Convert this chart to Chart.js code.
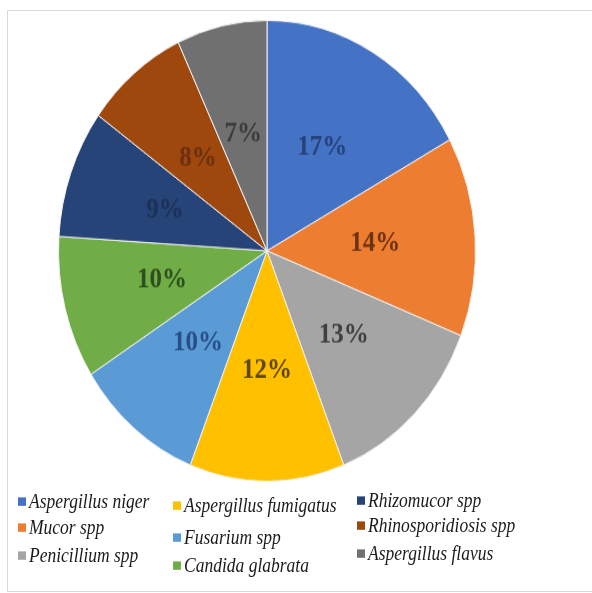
<!DOCTYPE html>
<html>
<head>
<meta charset="utf-8">
<script src="https://cdn.jsdelivr.net/npm/chart.js@4/dist/chart.umd.min.js"></script>
<style>
  html, body { margin: 0; padding: 0; background: #fff; }
  #page { position: relative; width: 592px; height: 593px; overflow: hidden; }
  #frame { position: absolute; left: 7px; top: 10px; width: 600px; height: 580px; border: 1px solid #d9d9d9; }
  #pieBox { position: absolute; left: 0; top: 0; width: 592px; height: 454px; transform: scaleY(1.105); transform-origin: 0 0; }
  #legend { position: absolute; left: 0; top: 0; width: 592px; height: 593px; font-family: "Liberation Serif", "Times New Roman", serif; font-style: italic; font-size: 17.5px; color: #1a1a1a; }
  .item { position: absolute; white-space: nowrap; line-height: 20px; transform: scaleY(1.2); transform-origin: 0 50%; }
  .sw { display: inline-block; width: 8px; height: 7px; margin-right: 3px; vertical-align: 2px; }
</style>
</head>
<body>
<div id="page">
  <div id="frame"></div>
  <div id="pieBox"><canvas id="pie"></canvas></div>
  <div id="legend"></div>
</div>
<script>
const species = ['Aspergillus niger', 'Mucor spp', 'Penicillium spp', 'Aspergillus fumigatus',
  'Fusarium spp', 'Candida glabrata', 'Rhizomucor spp', 'Rhinosporidiosis spp', 'Aspergillus flavus']
const percents = [17, 14, 13, 12, 10, 10, 9, 8, 7]
const sliceColors = ['#4472C4', '#ED7D31', '#A5A5A5', '#FFC000', '#5B9BD5', '#70AD47', '#264478', '#9E480E', '#707070']
const labelColors = ['#25437a', '#6e3210', '#3f3f3f', '#5e4500', '#254f86', '#2f4d1d', '#1c3157', '#6a3010', '#3c3c3c']

// legend is column-major (3 columns) so it is built in html
const legendSpots = [
  [18, 491], [18, 517], [18, 545],
  [173, 495], [173, 527], [173, 555],
  [357, 490], [357, 515], [357, 543]
]
const legend = document.getElementById('legend')
species.forEach((name, i) => {
  const el = document.createElement('div')
  el.className = 'item'
  el.style.left = legendSpots[i][0] + 'px'
  el.style.top = legendSpots[i][1] + 'px'
  el.innerHTML = '<span class="sw" style="background:' + sliceColors[i] + '"></span>' + name
  legend.appendChild(el)
})

const pctLabels = {
  id: 'pctLabels',
  afterDatasetsDraw(chart) {
    const ctx = chart.ctx
    const meta = chart.getDatasetMeta(0)
    ctx.save()
    ctx.font = 'bold 25px "Liberation Serif", "Times New Roman", serif'
    ctx.textAlign = 'center'
    ctx.textBaseline = 'middle'
    meta.data.forEach((arc, i) => {
      const p = arc.getProps(['x', 'y', 'startAngle', 'endAngle', 'outerRadius'], true)
      const mid = (p.startAngle + p.endAngle) / 2
      const r = p.outerRadius * 0.52
      ctx.fillStyle = labelColors[i]
      ctx.fillText(percents[i] + '%', p.x + Math.cos(mid) * r, p.y + Math.sin(mid) * r)
    })
    ctx.restore()
  }
}

new Chart(document.getElementById('pie'), {
  type: 'pie',
  data: {
    labels: species,
    datasets: [{
      data: percents,
      backgroundColor: sliceColors,
      borderColor: '#f2f2f2',
      borderWidth: 1
    }]
  },
  options: {
    responsive: true,
    maintainAspectRatio: false,
    animation: false,
    layout: { padding: { left: 0, right: 58, top: 18, bottom: 18 } },
    plugins: {
      legend: { display: false },
      tooltip: { enabled: false }
    }
  },
  plugins: [pctLabels]
})
</script>
</body>
</html>
